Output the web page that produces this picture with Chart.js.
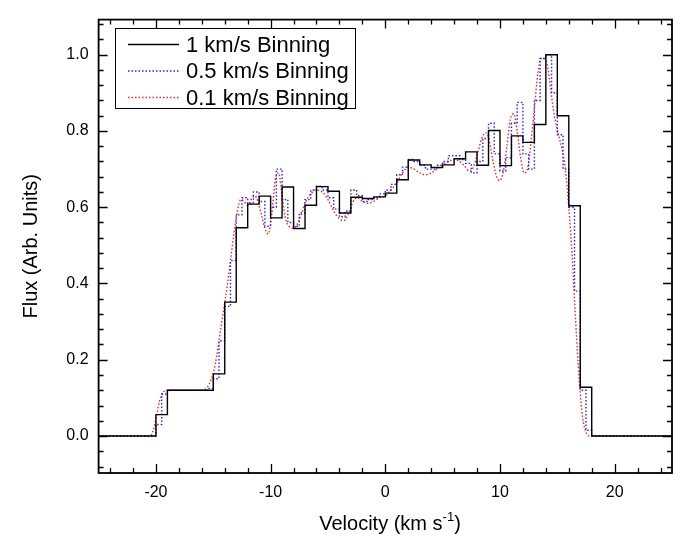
<!DOCTYPE html>
<html>
<head>
<meta charset="utf-8">
<script src="https://cdn.jsdelivr.net/npm/chart.js@4"></script>
<style>
  html, body { margin: 0; padding: 0; background: #fff; }
  #wrap { width: 683px; height: 542px; }
</style>
</head>
<body>
<div id="wrap"><canvas id="fluxChart" width="683" height="542"></canvas></div>
<script>
// 1 km/s binning: bins start at -20, width 1
const bin1Start = -20;
const bin1Width = 1;
const flux1 = [0.056, 0.12, 0.12, 0.12, 0.12, 0.163, 0.351, 0.546, 0.608, 0.629,
               0.572, 0.653, 0.544, 0.605, 0.654, 0.642, 0.585, 0.626, 0.623, 0.627,
               0.637, 0.672, 0.724, 0.711, 0.704, 0.711, 0.727, 0.745, 0.710, 0.801,
               0.709, 0.787, 0.770, 0.817, 1.0, 0.84, 0.604, 0.128];

// 0.5 km/s binning: bins start at -20.5, width 0.5
const bin05Start = -20.5;
const bin05Width = 0.5;
const flux05 = [0.0, 0.03, 0.11, 0.12, 0.12, 0.12, 0.12, 0.12, 0.12, 0.12,
                0.125, 0.15, 0.25, 0.34, 0.46, 0.58, 0.625, 0.61, 0.64, 0.615,
                0.55, 0.60, 0.70, 0.62, 0.56, 0.55, 0.585, 0.62, 0.645, 0.655,
                0.645, 0.625, 0.595, 0.575, 0.59, 0.645, 0.63, 0.615, 0.62, 0.625,
                0.635, 0.645, 0.66, 0.685, 0.705, 0.725, 0.72, 0.71, 0.70, 0.70,
                0.71, 0.72, 0.735, 0.735, 0.725, 0.715, 0.69, 0.72, 0.78, 0.82,
                0.74, 0.695, 0.73, 0.82, 0.875, 0.74, 0.70, 0.88, 0.99, 1.0,
                0.90, 0.79, 0.70, 0.60, 0.38, 0.12, 0.015];

const vel01 = [-25, -20.5, -20.3, -20.1, -19.9, -19.7, -19.4, -19.0,
               -16.0, -15.6, -15.3, -15.0, -14.7, -14.4, -14.1, -13.8, -13.5, -13.2, -12.9, -12.6, -12.3, -12.0,
               -11.7, -11.4, -11.1, -10.8, -10.5, -10.2, -9.9, -9.6, -9.3, -9.0,
               -8.7, -8.4, -8.1, -7.8, -7.4, -7.0, -6.5, -6.0, -5.5, -5.0,
               -4.5, -4.0, -3.6, -3.2, -2.8, -2.4, -2.0, -1.5, -1.0, -0.5,
               0, 0.5, 1.0, 1.5, 2.0, 2.5, 3.0, 3.5, 4.0, 4.5,
               5.0, 5.5, 6.0, 6.5, 7.0, 7.3, 7.6, 8.0, 8.4, 8.8,
               9.1, 9.4, 9.7, 10.0, 10.3, 10.6, 10.9, 11.2, 11.5, 11.8,
               12.1, 12.4, 12.7, 13.0, 13.3, 13.6, 13.9, 14.2, 14.5, 14.8,
               15.1, 15.4, 15.7, 16.0, 16.3, 16.6, 16.9, 17.2, 17.5, 17.8,
               18.1, 25];
const flux01 = [0, 0, 0.01, 0.03, 0.06, 0.09, 0.113, 0.12,
                0.12, 0.125, 0.14, 0.165, 0.21, 0.27, 0.33, 0.39, 0.46, 0.53, 0.59, 0.62, 0.615, 0.605,
                0.62, 0.63, 0.615, 0.58, 0.545, 0.53, 0.58, 0.67, 0.69, 0.63,
                0.57, 0.55, 0.545, 0.55, 0.575, 0.61, 0.635, 0.645, 0.64, 0.62,
                0.59, 0.57, 0.565, 0.585, 0.615, 0.625, 0.615, 0.61, 0.615, 0.625,
                0.63, 0.645, 0.665, 0.69, 0.705, 0.70, 0.69, 0.685, 0.69, 0.70,
                0.71, 0.72, 0.725, 0.72, 0.705, 0.695, 0.70, 0.735, 0.78, 0.795,
                0.77, 0.72, 0.68, 0.67, 0.695, 0.76, 0.83, 0.845, 0.80, 0.73,
                0.69, 0.70, 0.77, 0.86, 0.95, 0.99, 0.99, 0.96, 0.89, 0.83,
                0.79, 0.755, 0.70, 0.60, 0.47, 0.30, 0.15, 0.05, 0.01, 0,
                0, 0];

const seriesNames = ['1 km/s Binning', '0.5 km/s Binning', '0.1 km/s Binning'];
const xTicks = [-20, -10, 0, 10, 20];
const yTicks = [0.0, 0.2, 0.4, 0.6, 0.8, 1.0];
const xRange = [-25, 25];
const yRange = [-0.097, 1.092];

const FONT = '"Liberation Sans", Arial, sans-serif';

function stepPoints(start, width, values) {
    const pts = [{ x: xRange[0], y: 0 }];
    values.forEach((v, i) => pts.push({ x: start + i * width, y: v }));
    pts.push({ x: start + values.length * width, y: 0 });
    pts.push({ x: xRange[1], y: 0 });
    return pts;
}

const framePlugin = {
    id: 'frame',
    afterDatasetsDraw(chart) {
        const { ctx, chartArea: a, scales: { x, y } } = chart;
        ctx.save();
        ctx.strokeStyle = '#000';
        ctx.lineWidth = 1.8;
        ctx.strokeRect(a.left, a.top, a.right - a.left, a.bottom - a.top);

        ctx.lineWidth = 1.3;
        ctx.beginPath();
        // x ticks (major every 10, minor every 2) on bottom and top
        for (let v = -24; v <= 24; v += 2) {
            const px = Math.round(x.getPixelForValue(v)) + 0.5;
            const len = v % 10 === 0 ? 9 : 5;
            ctx.moveTo(px, a.bottom); ctx.lineTo(px, a.bottom - len);
            ctx.moveTo(px, a.top); ctx.lineTo(px, a.top + len);
        }
        // y ticks (major every 0.2, minor every 0.04) on left and right
        for (let k = -2; k <= 27; k++) {
            const v = k * 0.04;
            const py = Math.round(y.getPixelForValue(v)) + 0.5;
            const len = k % 5 === 0 ? 9 : 5;
            ctx.moveTo(a.left, py); ctx.lineTo(a.left + len, py);
            ctx.moveTo(a.right, py); ctx.lineTo(a.right - len, py);
        }
        ctx.stroke();
        ctx.restore();
    },
    afterDraw(chart) {
        const { ctx, chartArea: a } = chart;
        ctx.save();
        ctx.fillStyle = '#000';

        // y title
        ctx.save();
        ctx.translate(31, (a.top + a.bottom) / 2);
        ctx.rotate(-Math.PI / 2);
        ctx.font = '20px ' + FONT;
        ctx.textAlign = 'center';
        ctx.textBaseline = 'middle';
        ctx.fillText('Flux (Arb. Units)', 0, 0);
        ctx.restore();

        // x title with superscript
        const main = 'Velocity (km s';
        const sup = '-1';
        const tail = ')';
        ctx.font = '20px ' + FONT;
        const w1 = ctx.measureText(main).width;
        const w3 = ctx.measureText(tail).width;
        ctx.font = '13px ' + FONT;
        const w2 = ctx.measureText(sup).width;
        let tx = 390 - (w1 + w2 + w3) / 2;
        const ty = 530;
        ctx.textBaseline = 'alphabetic';
        ctx.textAlign = 'left';
        ctx.font = '20px ' + FONT;
        ctx.fillText(main, tx, ty);
        ctx.font = '13px ' + FONT;
        ctx.fillText(sup, tx + w1, ty - 9);
        ctx.font = '20px ' + FONT;
        ctx.fillText(tail, tx + w1 + w2, ty);

        // legend
        const bx = 115.5, by = 28.5, bw = 240, bh = 80;
        ctx.fillStyle = '#fff';
        ctx.fillRect(bx, by, bw, bh);
        ctx.strokeStyle = '#000';
        ctx.lineWidth = 1;
        ctx.strokeRect(bx, by, bw, bh);
        const rows = [44.5, 71, 97.5];
        chart.data.datasets.forEach((ds, i) => {
            ctx.beginPath();
            ctx.strokeStyle = ds.borderColor;
            ctx.lineWidth = ds.borderWidth;
            ctx.setLineDash(ds.borderDash || []);
            ctx.moveTo(128, rows[i]);
            ctx.lineTo(179, rows[i]);
            ctx.stroke();
            ctx.setLineDash([]);
            ctx.fillStyle = '#000';
            ctx.font = '22px ' + FONT;
            ctx.textBaseline = 'middle';
            ctx.fillText(ds.label, 186, rows[i] + 1);
        });
        ctx.restore();
    }
};

new Chart(document.getElementById('fluxChart').getContext('2d'), {
    type: 'line',
    data: {
        datasets: [
            {
                label: seriesNames[0],
                data: stepPoints(bin1Start, bin1Width, flux1),
                stepped: 'before',
                borderColor: '#000000',
                borderWidth: 1.4,
                pointRadius: 0,
                fill: false
            },
            {
                label: seriesNames[1],
                data: stepPoints(bin05Start, bin05Width, flux05),
                stepped: 'before',
                borderColor: '#2020ff',
                borderWidth: 1.4,
                borderDash: [1.5, 2],
                pointRadius: 0,
                fill: false
            },
            {
                label: seriesNames[2],
                data: vel01.map((v, i) => ({ x: v, y: flux01[i] })),
                cubicInterpolationMode: 'monotone',
                borderColor: '#ff2020',
                borderWidth: 1.4,
                borderDash: [1.5, 2],
                pointRadius: 0,
                fill: false
            }
        ]
    },
    options: {
        responsive: false,
        devicePixelRatio: 1,
        animation: false,
        layout: { padding: { top: 13, right: 11, left: 0, bottom: 0 } },
        plugins: { legend: { display: false }, tooltip: { enabled: false } },
        scales: {
            x: {
                type: 'linear',
                min: xRange[0],
                max: xRange[1],
                grid: { display: false, drawTicks: false },
                border: { display: false },
                afterBuildTicks: s => { s.ticks = xTicks.map(v => ({ value: v })); },
                afterFit: s => { s.height = 69; },
                ticks: {
                    padding: 10,
                    color: '#000',
                    font: { family: FONT, size: 16 },
                    maxRotation: 0,
                    callback: v => String(v)
                }
            },
            y: {
                type: 'linear',
                min: yRange[0],
                max: yRange[1],
                grid: { display: false, drawTicks: false },
                border: { display: false },
                afterBuildTicks: s => { s.ticks = yTicks.map(v => ({ value: v })); },
                afterFit: s => { s.width = 98.6; },
                ticks: {
                    padding: 10,
                    color: '#000',
                    font: { family: FONT, size: 16 },
                    callback: v => Number(v).toFixed(1)
                }
            }
        }
    },
    plugins: [framePlugin]
});
</script>
</body>
</html>
